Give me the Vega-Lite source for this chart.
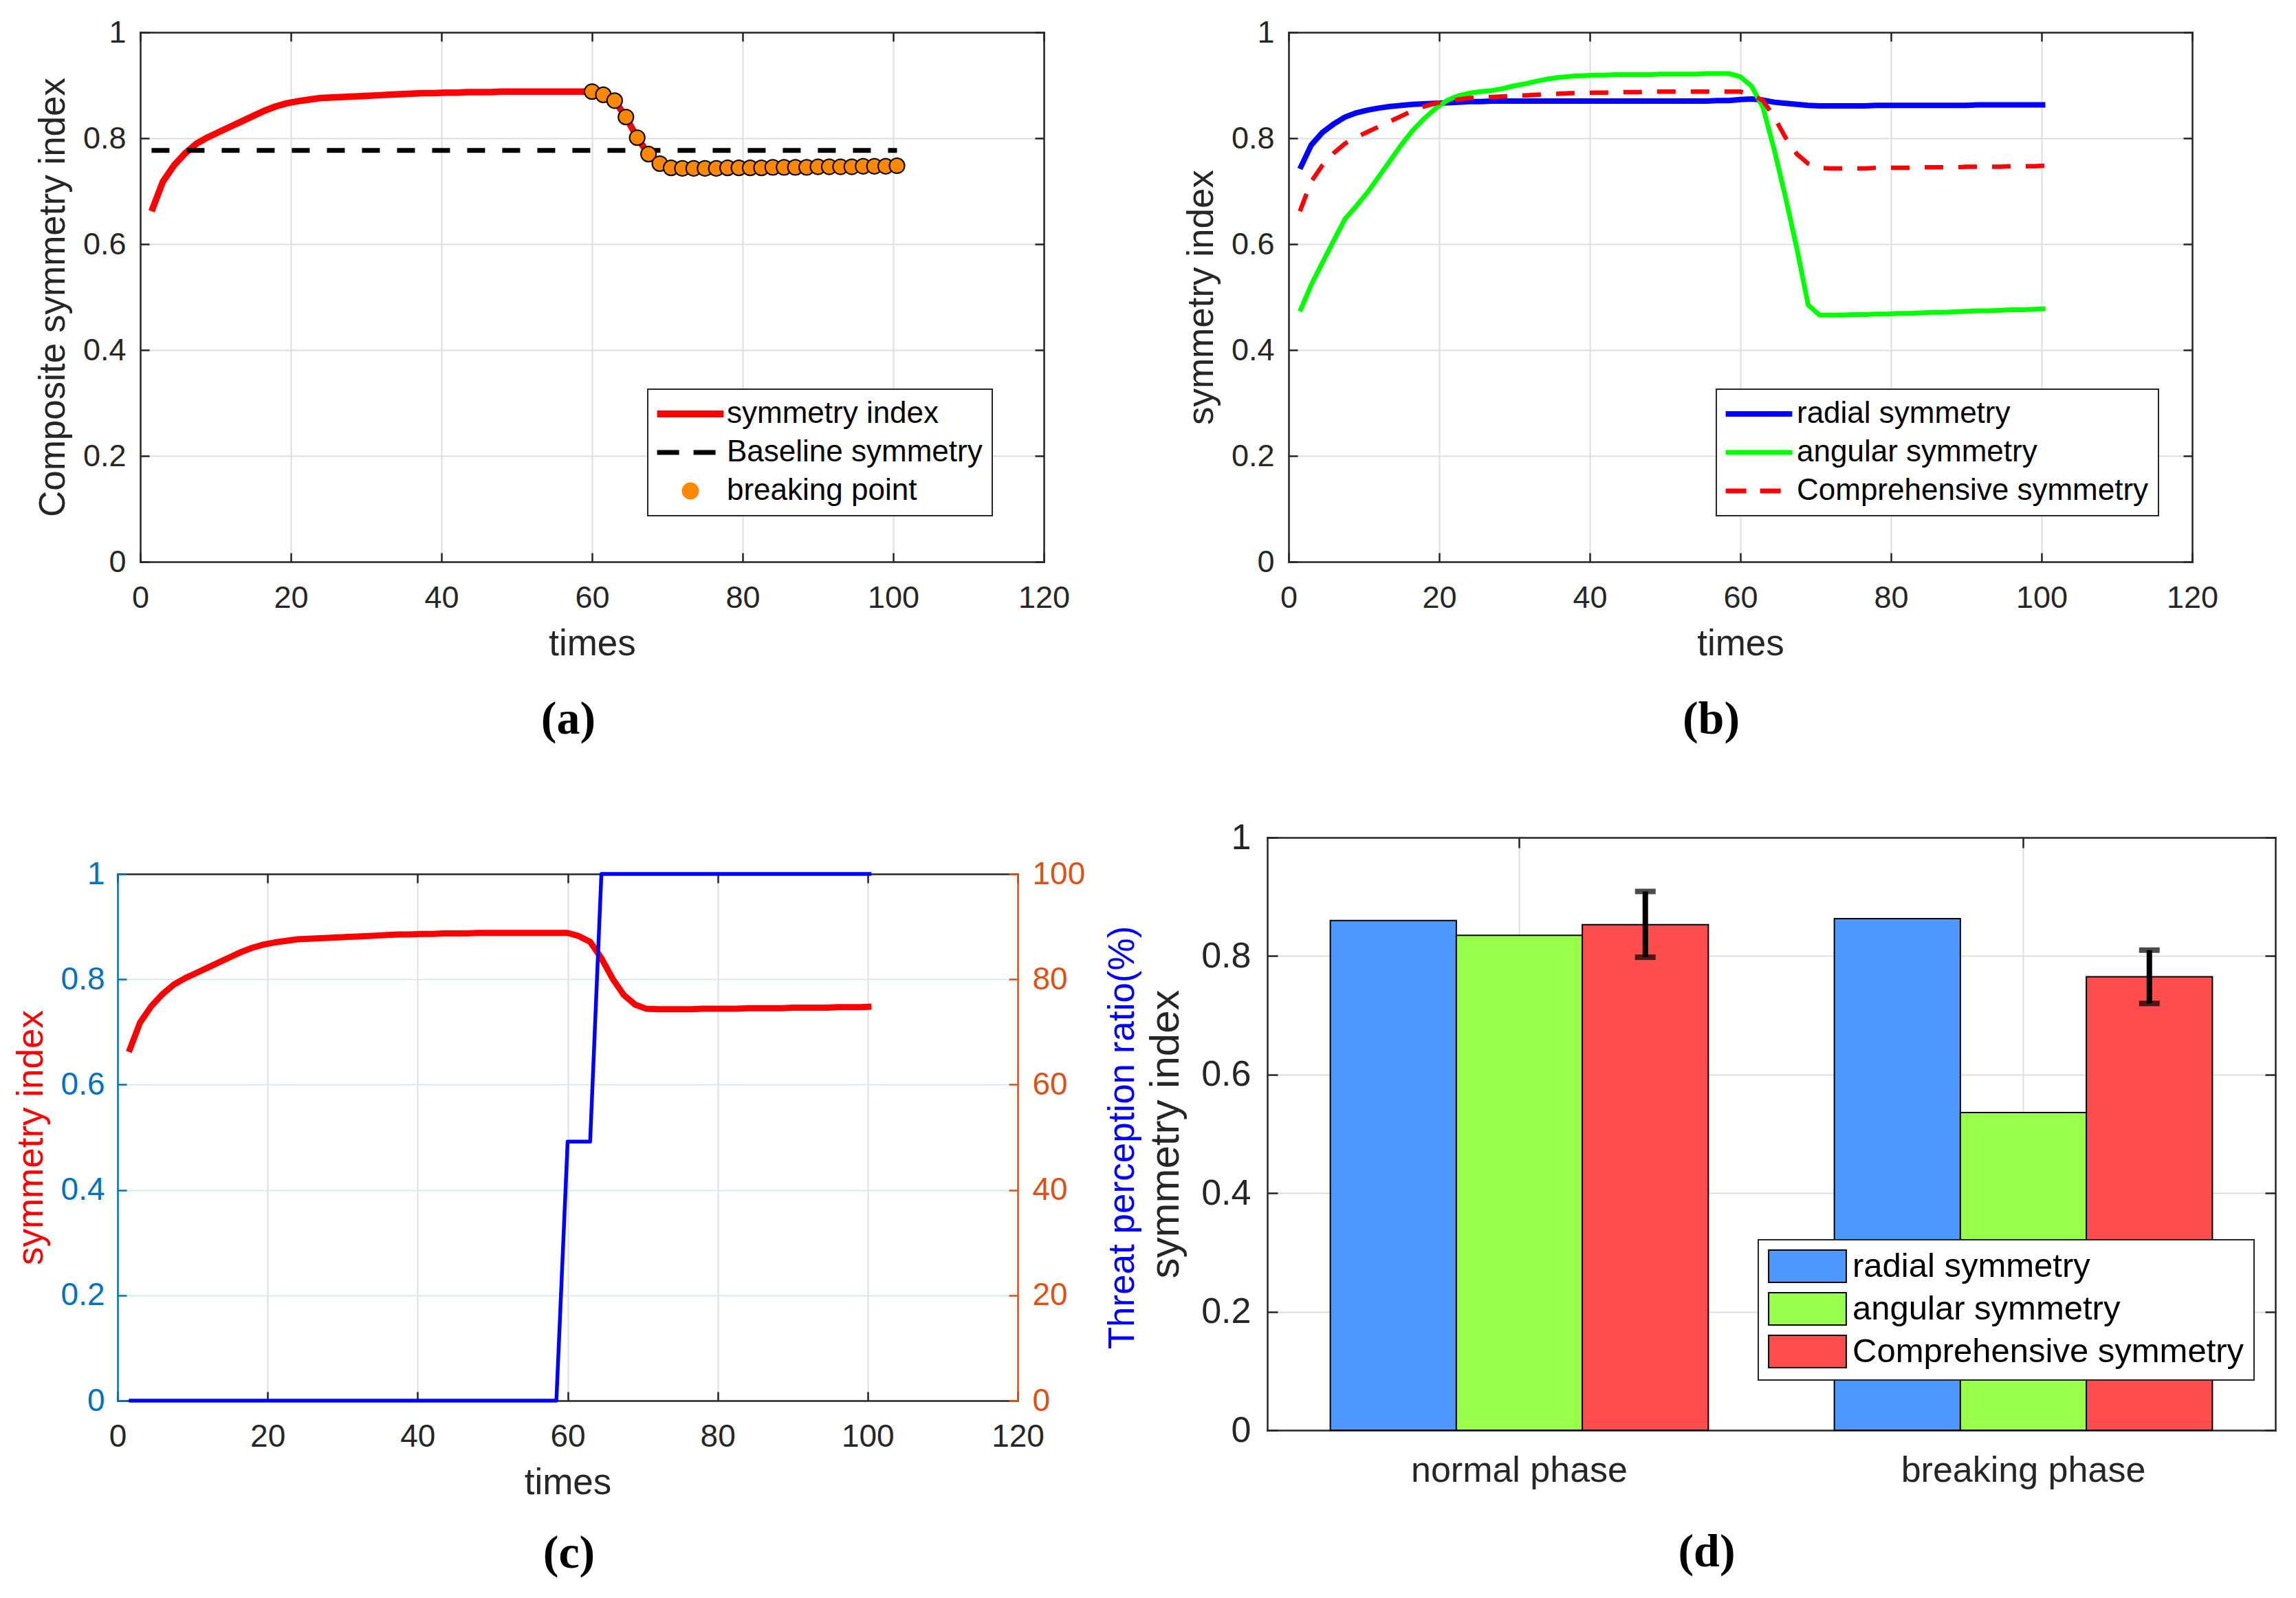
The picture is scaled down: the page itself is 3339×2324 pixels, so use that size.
{
"$schema": "https://vega.github.io/schema/vega-lite/v6.json",
"background": "white",
"padding": {"left": 19, "top": 25, "right": 5, "bottom": 5},
"bounds": "flush",
"align": "each",
"columns": 2,
"spacing": {"row": 401, "column": 325},
"resolve": {"scale": {"color": "independent"}, "legend": {"color": "independent"}},
"datasets": {
"ts": [
{"t":1.5,"comp":0.662,"radial":0.742,"angular":0.473,"threat":0},
{"t":3,"comp":0.718,"radial":0.787,"angular":0.523,"threat":0},
{"t":4.5,"comp":0.749,"radial":0.811,"angular":0.565,"threat":0},
{"t":6,"comp":0.772,"radial":0.827,"angular":0.607,"threat":0},
{"t":7.5,"comp":0.790,"radial":0.840,"angular":0.648,"threat":0},
{"t":9,"comp":0.802,"radial":0.848,"angular":0.672,"threat":0},
{"t":10.5,"comp":0.812,"radial":0.853,"angular":0.698,"threat":0},
{"t":12,"comp":0.822,"radial":0.857,"angular":0.728,"threat":0},
{"t":13.5,"comp":0.832,"radial":0.860,"angular":0.758,"threat":0},
{"t":15,"comp":0.842,"radial":0.862,"angular":0.788,"threat":0},
{"t":16.5,"comp":0.852,"radial":0.864,"angular":0.815,"threat":0},
{"t":18,"comp":0.860,"radial":0.865,"angular":0.837,"threat":0},
{"t":19.5,"comp":0.866,"radial":0.866,"angular":0.856,"threat":0},
{"t":21,"comp":0.870,"radial":0.867,"angular":0.871,"threat":0},
{"t":22.5,"comp":0.873,"radial":0.868,"angular":0.880,"threat":0},
{"t":24,"comp":0.876,"radial":0.869,"angular":0.885,"threat":0},
{"t":25.5,"comp":0.877,"radial":0.869,"angular":0.888,"threat":0},
{"t":27,"comp":0.878,"radial":0.870,"angular":0.890,"threat":0},
{"t":28.5,"comp":0.879,"radial":0.870,"angular":0.894,"threat":0},
{"t":30,"comp":0.880,"radial":0.870,"angular":0.899,"threat":0},
{"t":31.5,"comp":0.881,"radial":0.870,"angular":0.903,"threat":0},
{"t":33,"comp":0.882,"radial":0.870,"angular":0.908,"threat":0},
{"t":34.5,"comp":0.883,"radial":0.870,"angular":0.912,"threat":0},
{"t":36,"comp":0.884,"radial":0.870,"angular":0.915,"threat":0},
{"t":37.5,"comp":0.885,"radial":0.870,"angular":0.917,"threat":0},
{"t":39,"comp":0.885,"radial":0.870,"angular":0.918,"threat":0},
{"t":40.5,"comp":0.886,"radial":0.870,"angular":0.919,"threat":0},
{"t":42,"comp":0.886,"radial":0.870,"angular":0.919,"threat":0},
{"t":43.5,"comp":0.887,"radial":0.870,"angular":0.920,"threat":0},
{"t":45,"comp":0.887,"radial":0.870,"angular":0.920,"threat":0},
{"t":46.5,"comp":0.887,"radial":0.870,"angular":0.920,"threat":0},
{"t":48,"comp":0.888,"radial":0.870,"angular":0.920,"threat":0},
{"t":49.5,"comp":0.888,"radial":0.870,"angular":0.921,"threat":0},
{"t":51,"comp":0.888,"radial":0.870,"angular":0.921,"threat":0},
{"t":52.5,"comp":0.888,"radial":0.870,"angular":0.921,"threat":0},
{"t":54,"comp":0.888,"radial":0.870,"angular":0.921,"threat":0},
{"t":55.5,"comp":0.888,"radial":0.870,"angular":0.922,"threat":0},
{"t":57,"comp":0.888,"radial":0.871,"angular":0.922,"threat":0},
{"t":58.5,"comp":0.888,"radial":0.871,"angular":0.922,"threat":0},
{"t":60,"comp":0.888,"radial":0.873,"angular":0.916,"threat":49.2},
{"t":61.5,"comp":0.882,"radial":0.874,"angular":0.898,"threat":49.2},
{"t":63,"comp":0.871,"radial":0.872,"angular":0.858,"threat":49.2},
{"t":64.5,"comp":0.840,"radial":0.868,"angular":0.778,"threat":100},
{"t":66,"comp":0.801,"radial":0.866,"angular":0.688,"threat":100},
{"t":67.5,"comp":0.770,"radial":0.864,"angular":0.592,"threat":100},
{"t":69,"comp":0.752,"radial":0.862,"angular":0.485,"threat":100},
{"t":70.5,"comp":0.744,"radial":0.861,"angular":0.466,"threat":100},
{"t":72,"comp":0.743,"radial":0.861,"angular":0.466,"threat":100},
{"t":73.5,"comp":0.743,"radial":0.861,"angular":0.466,"threat":100},
{"t":75,"comp":0.743,"radial":0.861,"angular":0.467,"threat":100},
{"t":76.5,"comp":0.743,"radial":0.861,"angular":0.467,"threat":100},
{"t":78,"comp":0.744,"radial":0.862,"angular":0.468,"threat":100},
{"t":79.5,"comp":0.744,"radial":0.862,"angular":0.468,"threat":100},
{"t":81,"comp":0.744,"radial":0.862,"angular":0.469,"threat":100},
{"t":82.5,"comp":0.744,"radial":0.862,"angular":0.469,"threat":100},
{"t":84,"comp":0.745,"radial":0.862,"angular":0.470,"threat":100},
{"t":85.5,"comp":0.745,"radial":0.862,"angular":0.471,"threat":100},
{"t":87,"comp":0.745,"radial":0.862,"angular":0.471,"threat":100},
{"t":88.5,"comp":0.745,"radial":0.862,"angular":0.472,"threat":100},
{"t":90,"comp":0.746,"radial":0.862,"angular":0.473,"threat":100},
{"t":91.5,"comp":0.746,"radial":0.863,"angular":0.474,"threat":100},
{"t":93,"comp":0.746,"radial":0.863,"angular":0.474,"threat":100},
{"t":94.5,"comp":0.746,"radial":0.863,"angular":0.475,"threat":100},
{"t":96,"comp":0.747,"radial":0.863,"angular":0.476,"threat":100},
{"t":97.5,"comp":0.747,"radial":0.863,"angular":0.476,"threat":100},
{"t":99,"comp":0.747,"radial":0.863,"angular":0.477,"threat":100},
{"t":100.5,"comp":0.748,"radial":0.863,"angular":0.478,"threat":100}
],
"base": [{"t":1.5,"v":0.777},{"t":100.5,"v":0.777}],
"bars": [
{"phase":"normal phase","series":"radial symmetry","value":0.860},
{"phase":"normal phase","series":"angular symmetry","value":0.835},
{"phase":"normal phase","series":"Comprehensive symmetry","value":0.853},
{"phase":"breaking phase","series":"radial symmetry","value":0.863},
{"phase":"breaking phase","series":"angular symmetry","value":0.536},
{"phase":"breaking phase","series":"Comprehensive symmetry","value":0.765}
],
"err": [
{"phase":"normal phase","series":"Comprehensive symmetry","lo":0.798,"hi":0.909},
{"phase":"breaking phase","series":"Comprehensive symmetry","lo":0.720,"hi":0.810}
]
},
"concat": [
{
"width": 1347, "height": 770,
"title": {"text": "(a)", "orient": "bottom", "anchor": "middle", "frame": "group", "dx": -18, "offset": 50, "font": "Liberation Serif", "fontWeight": "bold", "fontSize": 68, "color": "#000000"},
"layer": [
{
"data": {"name": "ts"},
"mark": {"type": "line", "strokeWidth": 9.5, "strokeJoin": "round"},
"encoding": {
"x": {"field": "t", "type": "quantitative", "scale": {"domain": [0, 120], "nice": false, "range": [33, 1347]}, "axis": {"orient": "bottom", "title": "times", "values": [0,20,40,60,80,100,120], "grid": true, "labelPadding": 43, "titlePadding": 18}},
"y": {"field": "comp", "type": "quantitative", "scale": {"domain": [0, 1], "nice": false}, "axis": {"orient": "left", "offset": -33, "title": "Composite symmetry index", "values": [0,0.2,0.4,0.6,0.8,1], "format": "~g", "grid": true, "labelPadding": 34, "titlePadding": 16}},
"color": {"datum": "symmetry index", "type": "nominal",
"scale": {"domain": ["symmetry index", "Baseline symmetry", "breaking point"], "range": ["#FF0000", "#000000", "#FF8800"]},
"legend": {"orient": "none", "legendX": 771, "legendY": 519, "title": null, "padding": 14, "strokeColor": "#262626", "fillColor": "#FFFFFF", "labelFontSize": 44, "labelLimit": 0, "symbolType": "M-2.2,0H2.2", "symbolSize": 1936, "symbolOffset": 26, "labelOffset": 31, "rowPadding": 12,
"encode": {
"symbols": {"update": {
"shape": {"signal": "datum.value === 'breaking point' ? 'circle' : 'M-2.2,0H2.2'"},
"size": {"signal": "datum.value === 'breaking point' ? 530 : 1936"},
"stroke": {"signal": "datum.value === 'symmetry index' ? '#FF0000' : '#000000'"},
"strokeWidth": {"signal": "datum.value === 'symmetry index' ? 10 : datum.value === 'Baseline symmetry' ? 7 : 2"},
"strokeDash": {"signal": "datum.value === 'Baseline symmetry' ? [32, 21] : []"},
"fill": {"signal": "datum.value === 'breaking point' ? '#FF8800' : 'transparent'"},
"opacity": {"value": 1}
}},
"legend": {"update": {"strokeWidth": {"value": 2}}}
}}
}
}
},
{
"data": {"name": "base"},
"mark": {"type": "line", "strokeWidth": 7, "strokeDash": [26, 25]},
"encoding": {
"x": {"field": "t", "type": "quantitative", "axis": {"orient": "top", "title": null, "labels": false, "grid": false, "values": [0,20,40,60,80,100,120]}},
"y": {"field": "v", "type": "quantitative", "axis": {"orient": "right", "title": null, "labels": false, "grid": false, "values": [0,0.2,0.4,0.6,0.8,1]}},
"color": {"datum": "Baseline symmetry", "type": "nominal"}
}
},
{
"data": {"name": "ts"},
"transform": [{"filter": "datum.t >= 60"}],
"mark": {"type": "circle", "size": 490, "stroke": "#000000", "strokeWidth": 2, "opacity": 1},
"encoding": {
"x": {"field": "t", "type": "quantitative", "axis": null},
"y": {"field": "comp", "type": "quantitative", "axis": null},
"color": {"datum": "breaking point", "type": "nominal"}
}
}
],
"resolve": {"axis": {"x": "independent", "y": "independent"}}
},
{
"width": 1345, "height": 770,
"title": {"text": "(b)", "orient": "bottom", "anchor": "middle", "frame": "group", "dx": -27, "offset": 50, "font": "Liberation Serif", "fontWeight": "bold", "fontSize": 68, "color": "#000000"},
"layer": [
{
"data": {"name": "ts"},
"mark": {"type": "line", "strokeWidth": 8, "strokeJoin": "round"},
"encoding": {
"x": {"field": "t", "type": "quantitative", "scale": {"domain": [0, 120], "nice": false, "range": [31, 1345]}, "axis": {"orient": "bottom", "title": "times", "values": [0,20,40,60,80,100,120], "grid": true, "labelPadding": 43, "titlePadding": 18}},
"y": {"field": "radial", "type": "quantitative", "scale": {"domain": [0, 1], "nice": false}, "axis": {"orient": "left", "offset": -31, "title": "symmetry index", "values": [0,0.2,0.4,0.6,0.8,1], "format": "~g", "grid": true, "labelPadding": 34, "titlePadding": 16}},
"color": {"datum": "radial symmetry", "type": "nominal",
"scale": {"domain": ["radial symmetry", "angular symmetry", "Comprehensive symmetry"], "range": ["#0000FF", "#00FF00", "#FF0000"]},
"legend": {"orient": "none", "legendX": 653, "legendY": 519, "title": null, "padding": 14, "strokeColor": "#262626", "fillColor": "#FFFFFF", "labelFontSize": 44, "labelLimit": 0, "symbolType": "M-2.2,0H2.2", "symbolSize": 1936, "symbolOffset": 26, "labelOffset": 33, "rowPadding": 12,
"encode": {
"symbols": {"update": {
"stroke": {"signal": "datum.value === 'radial symmetry' ? '#0000FF' : datum.value === 'angular symmetry' ? '#00FF00' : '#FF0000'"},
"strokeWidth": {"signal": "datum.value === 'radial symmetry' ? 8 : 7"},
"strokeDash": {"signal": "datum.value === 'Comprehensive symmetry' ? [30, 20] : []"},
"fill": {"value": "transparent"},
"opacity": {"value": 1}
}},
"legend": {"update": {"strokeWidth": {"value": 2}}}
}}
}
}
},
{
"data": {"name": "ts"},
"mark": {"type": "line", "strokeWidth": 7, "strokeJoin": "round"},
"encoding": {
"x": {"field": "t", "type": "quantitative", "axis": {"orient": "top", "title": null, "labels": false, "grid": false, "values": [0,20,40,60,80,100,120]}},
"y": {"field": "angular", "type": "quantitative", "axis": {"orient": "right", "title": null, "labels": false, "grid": false, "values": [0,0.2,0.4,0.6,0.8,1]}},
"color": {"datum": "angular symmetry", "type": "nominal"}
}
},
{
"data": {"name": "ts"},
"mark": {"type": "line", "strokeWidth": 6.5, "strokeDash": [27, 22]},
"encoding": {
"x": {"field": "t", "type": "quantitative", "axis": null},
"y": {"field": "comp", "type": "quantitative", "axis": null},
"color": {"datum": "Comprehensive symmetry", "type": "nominal"}
}
}
],
"resolve": {"axis": {"x": "independent", "y": "independent"}}
},
{
"width": 1309, "height": 819,
"title": {"text": "(c)", "orient": "bottom", "anchor": "middle", "frame": "group", "dx": 2, "offset": 43, "font": "Liberation Serif", "fontWeight": "bold", "fontSize": 68, "color": "#000000"},
"layer": [
{
"data": {"name": "ts"},
"mark": {"type": "line", "color": "#FF0000", "strokeWidth": 9, "strokeJoin": "round"},
"encoding": {
"x": {"field": "t", "type": "quantitative", "scale": {"domain": [0, 120], "nice": false}, "axis": {"orient": "bottom", "title": "times", "values": [0,20,40,60,80,100,120], "grid": false, "labelPadding": 43, "titlePadding": 18, "labelFontSize": 46}},
"y": {"field": "comp", "type": "quantitative", "scale": {"domain": [0, 1], "nice": false, "range": [819, 53]}, "axis": {"orient": "left", "title": "symmetry index", "titleColor": "#FF0000", "labelColor": "#0072BD", "domainColor": "#0072BD", "tickColor": "#0072BD", "gridColor": "#D9EAF5", "values": [0,0.2,0.4,0.6,0.8,1], "format": "~g", "grid": true, "labelPadding": 32, "titlePadding": 16, "labelFontSize": 46}}
}
},
{
"data": {"name": "ts"},
"mark": {"type": "line", "color": "#0000FF", "strokeWidth": 5.5, "strokeJoin": "round"},
"encoding": {
"x": {"field": "t", "type": "quantitative", "axis": {"orient": "top", "offset": -53, "title": null, "labels": false, "grid": true, "gridColor": "#DCE0E6", "values": [0,20,40,60,80,100,120]}},
"y": {"field": "threat", "type": "quantitative", "scale": {"domain": [0, 100], "nice": false, "range": [819, 53]}, "axis": {"orient": "right", "title": "Threat perception ratio(%)", "titleColor": "#0000FF", "titleAngle": 270, "titleBaseline": "top", "labelColor": "#D95319", "domainColor": "#D95319", "tickColor": "#D95319", "values": [0,20,40,60,80,100], "grid": false, "labelPadding": 34, "titlePadding": 29, "labelFontSize": 46}}
}
}
],
"resolve": {"scale": {"y": "independent"}, "axis": {"x": "independent", "y": "independent"}}
},
{
"width": 1466, "height": 862,
"title": {"text": "(d)", "orient": "bottom", "anchor": "middle", "frame": "group", "dx": -94, "offset": 60, "font": "Liberation Serif", "fontWeight": "bold", "fontSize": 68, "color": "#000000"},
"layer": [
{
"data": {"name": "bars"},
"mark": {"type": "bar", "stroke": "#000000", "strokeWidth": 2, "opacity": 1},
"encoding": {
"x": {"field": "phase", "type": "nominal", "scale": {"domain": ["normal phase", "breaking phase"], "paddingInner": 0.25, "paddingOuter": 0.125}, "axis": {"orient": "bottom", "title": null, "grid": true, "bandPosition": 0.5, "labelAngle": 0, "labelPadding": 48, "labelFontSize": 52, "tickSize": -15}},
"xOffset": {"field": "series", "type": "nominal", "scale": {"domain": ["radial symmetry", "angular symmetry", "Comprehensive symmetry"], "paddingInner": 0, "paddingOuter": 0}},
"y": {"field": "value", "type": "quantitative", "scale": {"domain": [0, 1], "nice": false}, "axis": {"orient": "left", "title": "symmetry index", "values": [0,0.2,0.4,0.6,0.8,1], "format": "~g", "grid": true, "labelPadding": 39, "titlePadding": 20, "labelFontSize": 52, "titleFontSize": 60, "tickSize": -15}},
"color": {"field": "series", "type": "nominal",
"scale": {"domain": ["radial symmetry", "angular symmetry", "Comprehensive symmetry"], "range": ["#4D99FF", "#99FF4D", "#FF4D4D"]},
"legend": {"orient": "none", "legendX": 714, "legendY": 585, "title": null, "padding": 14, "strokeColor": "#262626", "fillColor": "#FFFFFF", "labelFontSize": 49, "labelLimit": 0, "symbolType": "M-2.4,-1H2.4V1H-2.4Z", "symbolSize": 2209, "symbolOffset": 33, "symbolStrokeColor": "#000000", "symbolStrokeWidth": 2, "symbolOpacity": 1, "labelOffset": 41, "rowPadding": 7,
"encode": {"legend": {"update": {"strokeWidth": {"value": 2}}}}}
}
}
},
{
"data": {"name": "err"},
"mark": {"type": "rule", "strokeWidth": 8, "color": "#000000"},
"encoding": {
"x": {"field": "phase", "type": "nominal", "axis": {"orient": "top", "title": null, "labels": false, "grid": false, "bandPosition": 0.5, "tickSize": -15}},
"xOffset": {"field": "series", "type": "nominal"},
"y": {"field": "lo", "type": "quantitative", "axis": {"orient": "right", "title": null, "labels": false, "grid": false, "values": [0,0.2,0.4,0.6,0.8,1], "tickSize": -15}},
"y2": {"field": "hi"}
}
},
{
"data": {"name": "err"},
"transform": [{"fold": ["lo", "hi"], "as": ["end", "ev"]}],
"mark": {"type": "tick", "orient": "horizontal", "size": 30, "thickness": 8, "color": "#000000"},
"encoding": {
"x": {"field": "phase", "type": "nominal", "axis": null},
"xOffset": {"field": "series", "type": "nominal"},
"y": {"field": "ev", "type": "quantitative", "axis": null}
}
}
],
"resolve": {"axis": {"x": "independent", "y": "independent"}}
}
],
"config": {
"view": {"stroke": null},
"font": "Liberation Sans",
"axis": {
"domainColor": "#262626", "domainWidth": 2.5, "domainCap": "square",
"tickColor": "#262626", "tickWidth": 2.5, "tickSize": -13,
"labelColor": "#262626", "labelFont": "Liberation Sans", "labelFontSize": 45, "labelLimit": 0,
"labelFlush": false, "labelOverlap": false,
"titleFont": "Liberation Sans", "titleFontSize": 53, "titleFontWeight": "normal", "titleColor": "#262626",
"gridColor": "#DEDEDE", "gridWidth": 2
},
"legend": {"labelFont": "Liberation Sans", "labelColor": "#000000", "symbolStrokeWidth": 2}
}
}
